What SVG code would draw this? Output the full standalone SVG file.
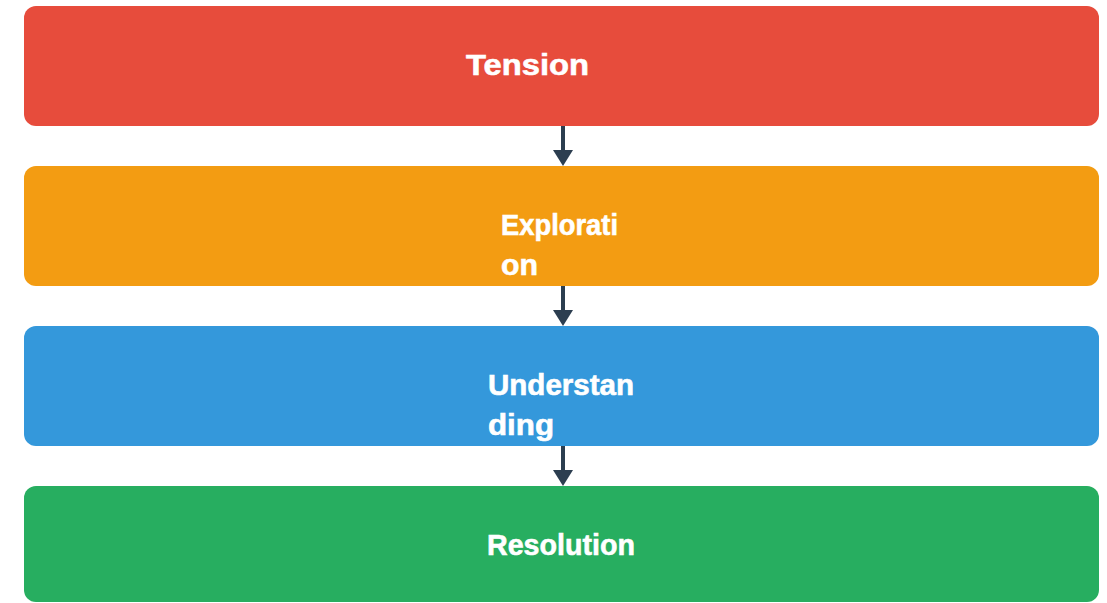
<svg xmlns="http://www.w3.org/2000/svg" width="1107" height="603" viewBox="0 0 1107 603">
<style>
.box{stroke:none}
.lbl{font-family:"Liberation Sans",Arial,sans-serif;font-weight:bold;font-size:29px;fill:#ffffff;stroke:#ffffff;stroke-width:0.6}
.conn line{stroke:#2c3e50;stroke-width:4}
.conn polygon{fill:#2c3e50}
</style>
<rect width="1107" height="603" fill="#ffffff"/>
<g id="tension">
<rect class="box" x="24" y="6" width="1075" height="120" rx="12" fill="#e74c3c"/>
<text class="lbl" x="466" y="75" textLength="123" lengthAdjust="spacingAndGlyphs">Tension</text>
</g>
<g id="exploration">
<rect class="box" x="24" y="166" width="1075" height="120" rx="12" fill="#f39c12"/>
<text class="lbl" x="501" y="235" textLength="117" lengthAdjust="spacingAndGlyphs">Explorati</text>
<text class="lbl" x="501" y="275" textLength="37" lengthAdjust="spacingAndGlyphs">on</text>
</g>
<g id="understanding">
<rect class="box" x="24" y="326" width="1075" height="120" rx="12" fill="#3498db"/>
<text class="lbl" x="488" y="395" textLength="146" lengthAdjust="spacingAndGlyphs">Understan</text>
<text class="lbl" x="488" y="435" textLength="66" lengthAdjust="spacingAndGlyphs">ding</text>
</g>
<g id="resolution">
<rect class="box" x="24" y="486" width="1075" height="116" rx="12" fill="#27ae60"/>
<text class="lbl" x="487" y="555" textLength="148" lengthAdjust="spacingAndGlyphs">Resolution</text>
</g>
<g id="connectors" class="conn">
<line x1="563" y1="126" x2="563" y2="152"/>
<polygon points="553,150 573,150 563,166"/>
<line x1="563" y1="286" x2="563" y2="312"/>
<polygon points="553,310 573,310 563,326"/>
<line x1="563" y1="446" x2="563" y2="472"/>
<polygon points="553,470 573,470 563,486"/>
</g>
</svg>
